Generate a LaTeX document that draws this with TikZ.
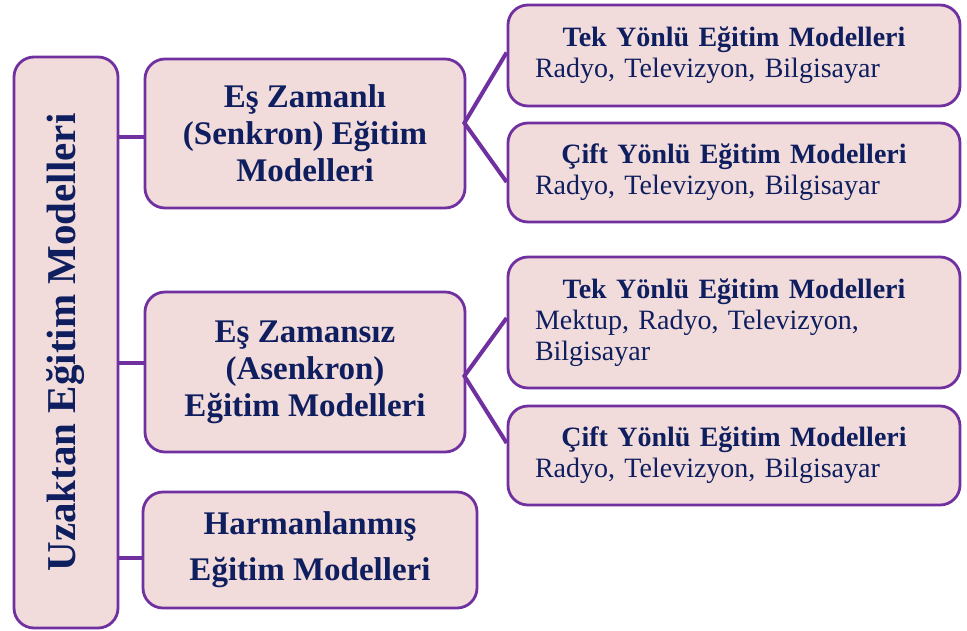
\documentclass[tikz,border=0pt]{standalone}
\usepackage{fontspec}
\setmainfont{Liberation Serif}
\definecolor{boxfill}{HTML}{F2DCDB}
\definecolor{boxline}{HTML}{7030A0}
\definecolor{navy}{RGB}{14,30,94}
\newcommand{\hdline}[1]{\makebox[\linewidth][c]{\bfseries #1}}
\begin{document}
\begin{tikzpicture}[x=1pt,y=-1pt,
  box/.style={draw=boxline, line width=2.8pt, fill=boxfill, rounded corners=20pt,
    text=navy, inner sep=0pt},
  midbox/.style={box, align=center, font=\fontsize{33}{37}\selectfont\bfseries},
  rbox/.style={box, minimum width=452pt, text width=398pt, align=left,
    font=\fontsize{28}{31}\selectfont},
  link/.style={draw=boxline, line width=4.5pt}]
\useasboundingbox (0,0) rectangle (967,630);

\node[box, minimum width=104pt, minimum height=571pt] (L) at (66,342.5)
  {\rotatebox{90}{\fontsize{41}{46}\selectfont\bfseries Uzaktan Eğitim Modelleri}};

\node[midbox, minimum width=320pt, minimum height=149pt] (A) at (305,133.5)
  {Eş Zamanlı\\(Senkron) Eğitim\\Modelleri};
\node[midbox, minimum width=320pt, minimum height=160pt] (B) at (305,372)
  {Eş Zamansız\\(Asenkron)\\Eğitim Modelleri};
\node[midbox, minimum width=334pt, minimum height=116pt,
  font=\fontsize{33}{46}\selectfont\bfseries] (C) at (310,550)
  {Harmanlanmış\\Eğitim Modelleri};

\node[rbox, minimum height=101pt] (r1) at (734,55.5)
  {\hdline{Tek Yönlü Eğitim Modelleri}\\Radyo, Televizyon, Bilgisayar};
\node[rbox, minimum height=99pt] (r2) at (734,172.5)
  {\hdline{Çift Yönlü Eğitim Modelleri}\\Radyo, Televizyon, Bilgisayar};
\node[rbox, minimum height=131pt] (r3) at (734,322.5)
  {\hdline{Tek Yönlü Eğitim Modelleri}\\Mektup, Radyo, Televizyon,\\Bilgisayar};
\node[rbox, minimum height=99pt] (r4) at (734,455.5)
  {\hdline{Çift Yönlü Eğitim Modelleri}\\Radyo, Televizyon, Bilgisayar};

% trunk connectors
\coordinate (a0) at ([yshift=-3.5pt]A.west);
\coordinate (b0) at ([yshift=9pt]B.west);
\coordinate (c0) at ([yshift=-8pt]C.west);
\draw[link] (a0) -- (a0 -| L.east);
\draw[link] (b0) -- (b0 -| L.east);
\draw[link] (c0) -- (c0 -| L.east);

% branch connectors
\coordinate (ja) at ([xshift=-2pt,yshift=10.5pt]A.east);
\coordinate (jb) at ([xshift=-2pt,yshift=-4pt]B.east);
\draw[link, line width=4pt, line join=miter] ([yshift=3pt]r1.west) -- (ja) -- ([yshift=-9.5pt]r2.west);
\draw[link, line width=4pt, line join=miter] ([yshift=4.5pt]r3.west) -- (jb) -- ([yshift=12.5pt]r4.west);
\end{tikzpicture}
\end{document}
